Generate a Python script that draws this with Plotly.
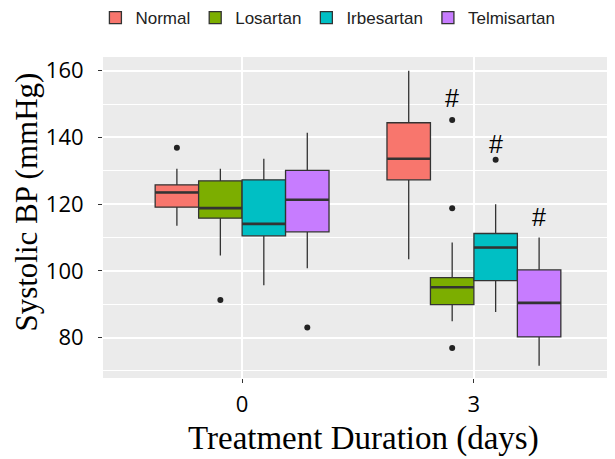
import plotly.graph_objects as go

groups = ["0", "3"]
series = ["Normal", "Losartan", "Irbesartan", "Telmisartan"]
colors = ["#F8766D", "#7CAE00", "#00BFC4", "#C77CFF"]

# per-series stats for groups [0, 3]
lower = {"Normal": [113.5, 103.5], "Losartan": [104.6, 84.9], "Irbesartan": [95.7, 87.7], "Telmisartan": [100.8, 71.6]}
q1 = {"Normal": [119.1, 127.3], "Losartan": [115.8, 89.9], "Irbesartan": [110.5, 97.1], "Telmisartan": [111.7, 80.2]}
median = {"Normal": [123.5, 133.6], "Losartan": [118.8, 95.1], "Irbesartan": [114.1, 107.0], "Telmisartan": [121.3, 90.4]}
q3 = {"Normal": [125.8, 144.4], "Losartan": [127.0, 98.0], "Irbesartan": [127.3, 111.2], "Telmisartan": [130.1, 100.3]}
upper = {"Normal": [130.6, 160.0], "Losartan": [130.6, 108.5], "Irbesartan": [133.6, 120.0], "Telmisartan": [141.4, 110.0]}

# outliers: (group index, value)
outliers = {
    "Normal": [(0, 136.9)],
    "Losartan": [(0, 91.3), (1, 145.2), (1, 118.8), (1, 76.9)],
    "Irbesartan": [(1, 133.3)],
    "Telmisartan": [(0, 83.0)],
}
# significance marks: (series, group index, y)
marks = [("Losartan", 1, 151.8), ("Irbesartan", 1, 138.0), ("Telmisartan", 1, 116.3)]

x_title = "Treatment Duration (days)"
y_title = "Systolic BP (mmHg)"

dodge = 0.75
bw = dodge / len(series)
def offset(i):
    return -dodge / 2 + bw * (i + 0.5)

fig = go.Figure()
for i, s in enumerate(series):
    xs = [g + offset(i) for g in range(len(groups))]
    fig.add_trace(go.Box(
        name=s, x=xs, q1=q1[s], median=median[s], q3=q3[s],
        lowerfence=lower[s], upperfence=upper[s],
        width=bw, whiskerwidth=0, fillcolor=colors[i],
        line=dict(color="#333333", width=1.3), boxpoints=False,
        hoverinfo="skip",
    ))
# thicker median lines (ggplot style)
for i, s in enumerate(series):
    mx, my = [], []
    for g in range(len(groups)):
        c = g + offset(i)
        mx += [c - bw / 2, c + bw / 2, None]
        my += [median[s][g], median[s][g], None]
    fig.add_trace(go.Scatter(x=mx, y=my, mode="lines", line=dict(color="#333333", width=2.6),
                             showlegend=False, hoverinfo="skip"))
for i, s in enumerate(series):
    pts = outliers[s]
    fig.add_trace(go.Scatter(
        x=[g + offset(i) for g, _ in pts], y=[v for _, v in pts],
        mode="markers", marker=dict(color="#222222", size=6),
        showlegend=False, hoverinfo="skip",
    ))
for s, g, y in marks:
    i = series.index(s)
    fig.add_annotation(x=g + offset(i), y=y, text="#", showarrow=False,
                       font=dict(size=25, color="black", family="Liberation Sans"))

fig.add_annotation(xref="paper", yref="paper", x=0.51, y=-0.19, text=x_title, showarrow=False,
                   xanchor="center", yanchor="middle",
                   font=dict(size=33, family="Liberation Serif", color="black"))
fig.add_annotation(xref="paper", yref="paper", x=-0.15, y=0.548, text=y_title, showarrow=False,
                   xanchor="center", yanchor="middle", textangle=-90,
                   font=dict(size=31, family="Liberation Serif", color="black"))

fig.update_layout(
    width=615, height=459,
    margin=dict(l=95, r=10, t=49, b=89, autoexpand=False),
    paper_bgcolor="white", plot_bgcolor="#EBEBEB",
    boxmode="overlay",
    legend=dict(orientation="h", x=0.441, xanchor="center", y=1.1215, yanchor="middle",
                font=dict(size=17, family="Liberation Sans", color="#222"),
                itemwidth=30, tracegroupgap=0),
    showlegend=True,
)
fig.update_xaxes(
    range=[-0.6, 1.6], tickvals=list(range(len(groups))), ticktext=groups,
    showgrid=True, gridcolor="white", gridwidth=1.5, zeroline=False, automargin=False,
    ticks="outside", ticklen=4, tickcolor="#333", tickwidth=1, ticklabelstandoff=3,
    tickfont=dict(size=22, family="Open Sans", color="black"),
)
fig.update_yaxes(
    range=[67.9, 164.1], tickvals=[80, 100, 120, 140, 160],
    showgrid=True, gridcolor="white", gridwidth=1.5, zeroline=False, automargin=False,
    minor=dict(tickvals=[70, 90, 110, 130, 150], showgrid=True, gridcolor="white", gridwidth=0.8),
    ticks="outside", ticklen=4, tickcolor="#333", tickwidth=1, ticklabelstandoff=10,
    tickfont=dict(size=22, family="Open Sans", color="black"),
)
fig.write_html("out.html")
